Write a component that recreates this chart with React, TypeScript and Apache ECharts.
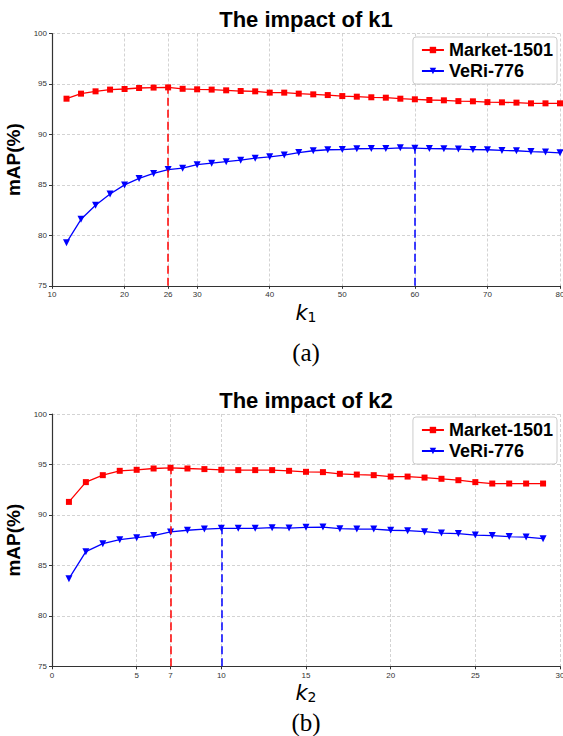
import React, { useEffect, useRef } from "react";
import * as echarts from "echarts";

const k1 = [12, 14, 16, 18, 20, 22, 24, 26, 28, 30, 32, 34, 36, 38, 40, 42, 44, 46, 48, 50, 52, 54, 56, 58, 60, 62, 64, 66, 68, 70, 72, 74, 76, 78, 80];
const market1 = [93.54, 94.04, 94.27, 94.44, 94.5, 94.6, 94.64, 94.66, 94.52, 94.47, 94.44, 94.37, 94.3, 94.27, 94.14, 94.14, 94.04, 93.97, 93.9, 93.8, 93.74, 93.68, 93.64, 93.54, 93.48, 93.41, 93.38, 93.3, 93.28, 93.2, 93.18, 93.15, 93.08, 93.08, 93.08];
const veri1 = [79.27, 81.59, 82.98, 84.1, 85.0, 85.64, 86.14, 86.52, 86.66, 87.0, 87.15, 87.3, 87.45, 87.65, 87.78, 87.95, 88.2, 88.38, 88.48, 88.5, 88.58, 88.6, 88.6, 88.67, 88.64, 88.6, 88.58, 88.55, 88.5, 88.48, 88.41, 88.38, 88.3, 88.25, 88.18];

const k2 = [1, 2, 3, 4, 5, 6, 7, 8, 9, 10, 11, 12, 13, 14, 15, 16, 17, 18, 19, 20, 21, 22, 23, 24, 25, 26, 27, 28, 29];
const market2 = [91.29, 93.25, 93.94, 94.37, 94.47, 94.6, 94.67, 94.6, 94.54, 94.47, 94.44, 94.44, 94.44, 94.37, 94.27, 94.24, 94.07, 94.0, 93.94, 93.8, 93.8, 93.7, 93.58, 93.44, 93.25, 93.11, 93.11, 93.11, 93.11];
const veri2 = [83.68, 86.36, 87.15, 87.55, 87.75, 87.95, 88.31, 88.48, 88.6, 88.67, 88.67, 88.67, 88.74, 88.7, 88.77, 88.8, 88.64, 88.6, 88.6, 88.48, 88.44, 88.34, 88.2, 88.15, 88.0, 87.95, 87.85, 87.8, 87.65];

const k1Ticks = [10, 20, 26, 30, 40, 50, 60, 70, 80];
const k2Ticks = [0, 5, 7, 10, 15, 20, 25, 30];
const yTicks = [75, 80, 85, 90, 95, 100];

const best1Market = 26;
const best1Veri = 60;
const best2Market = 7;
const best2Veri = 10;

const SANS = "'Liberation Sans', Arial, sans-serif";
const RED = "#ff0000";
const BLUE = "#0000ff";
const TRI_DOWN = "path://M0,0L10,0L5,9Z";

function pairs(xs: number[], ys: number[]) {
  return xs.map((x, i) => [x, ys[i]]);
}
function valueAt(xs: number[], ys: number[], x: number) {
  return ys[xs.indexOf(x)];
}

export default function App() {
  const ref = useRef<HTMLDivElement>(null);
  useEffect(() => {
    if (!ref.current) return;
    const chart = echarts.init(ref.current, undefined, { renderer: "svg" });

    const gridTops = [33.5, 414];
    const gridH = 252.3;

    const makeX = (gi: number, min: number, max: number, interval: number, ticks: number[], sub: string) => ({
      type: "value",
      gridIndex: gi,
      min,
      max,
      interval,
      name: "{i|k}{s|" + sub + "}",
      nameLocation: "middle",
      nameGap: 16,
      nameTextStyle: {
        rich: {
          i: { fontStyle: "italic", fontSize: 21, fontFamily: "'DejaVu Sans', sans-serif", color: "#000" },
          s: { fontSize: 14, fontFamily: "'DejaVu Sans', sans-serif", color: "#000", padding: [8, 0, 0, 0] },
        },
      },
      axisLine: { show: true, lineStyle: { color: "#333", width: 1.2 } },
      axisTick: { show: true, length: 3, customValues: ticks, lineStyle: { color: "#333" } },
      axisLabel: { customValues: ticks, fontSize: 8, color: "#333", fontFamily: SANS, margin: 5, showMaxLabel: true },
      splitLine: { show: true, lineStyle: { color: "#c8c8c8", type: [3, 2], width: 0.8 } },
    });

    const makeY = (gi: number) => ({
      type: "value",
      gridIndex: gi,
      min: 75,
      max: 100,
      interval: 5,
      name: "mAP(%)",
      nameLocation: "middle",
      nameRotate: 90,
      nameGap: 22,
      nameTextStyle: { fontSize: 19, fontWeight: "bold", fontFamily: SANS, color: "#000" },
      axisLine: { show: true, lineStyle: { color: "#333", width: 1.2 } },
      axisTick: { show: true, length: 3, customValues: yTicks, lineStyle: { color: "#333" } },
      axisLabel: { fontSize: 8, color: "#333", fontFamily: SANS, margin: 5 },
      splitLine: { show: true, lineStyle: { color: "#c8c8c8", type: [3, 2], width: 0.8 } },
    });

    const vline = (x: number, top: number, color: string) => ({
      silent: true,
      symbol: "none",
      label: { show: false },
      lineStyle: { type: [8, 4], width: 1.5, color },
      data: [[{ coord: [x, 75] }, { coord: [x, top] }]],
    });

    const lineSeries = (name: string, xi: number, data: number[][], color: string, symbol: string, size: number, ml: any) => ({
      type: "line",
      name,
      xAxisIndex: xi,
      yAxisIndex: xi,
      data,
      color,
      symbol,
      symbolSize: size,
      lineStyle: { color, width: 1.3 },
      itemStyle: { color },
      markLine: ml,
      z: 3,
    });

    const legendCfg = (top: number) => ({
      orient: "vertical",
      right: 6,
      top,
      itemWidth: 22,
      itemHeight: 8,
      itemGap: 3,
      padding: [4, 4, 4, 8],
      borderColor: "#cccccc",
      borderWidth: 1,
      borderRadius: 3,
      backgroundColor: "#ffffff",
      textStyle: { fontSize: 18, fontWeight: "bold", fontFamily: SANS, color: "#000" },
      data: ["Market-1501", "VeRi-776"],
      selectedMode: false,
    });

    const cx = 306;
    chart.setOption({
      animation: false,
      backgroundColor: "#ffffff",
      grid: [
        { left: 52, right: 3, top: gridTops[0], height: gridH, containLabel: false, outerBoundsMode: "none" },
        { left: 52, right: 3, top: gridTops[1], height: gridH, containLabel: false, outerBoundsMode: "none" },
      ],
      xAxis: [makeX(0, 10, 80, 10, k1Ticks, "1"), makeX(1, 0, 30, 5, k2Ticks, "2")],
      yAxis: [makeY(0), makeY(1)],
      legend: [legendCfg(37), legendCfg(417)],
      series: [
        lineSeries("Market-1501", 0, pairs(k1, market1), RED, "rect", 6, vline(best1Market, valueAt(k1, market1, best1Market), RED)),
        lineSeries("VeRi-776", 0, pairs(k1, veri1), BLUE, TRI_DOWN, 7, vline(best1Veri, valueAt(k1, veri1, best1Veri), BLUE)),
        lineSeries("Market-1501", 1, pairs(k2, market2), RED, "rect", 6, vline(best2Market, valueAt(k2, market2, best2Market), RED)),
        lineSeries("VeRi-776", 1, pairs(k2, veri2), BLUE, TRI_DOWN, 7, vline(best2Veri, valueAt(k2, veri2, best2Veri), BLUE)),
      ],
      graphic: [
        { type: "text", x: cx, y: 19.5, style: { text: "The impact of k1", font: "bold 22px " + SANS, fill: "#000", textAlign: "center", textVerticalAlign: "middle" } },
        { type: "text", x: cx, y: 400, style: { text: "The impact of k2", font: "bold 22px " + SANS, fill: "#000", textAlign: "center", textVerticalAlign: "middle" } },
        { type: "text", x: cx, y: 352, style: { text: "(a)", font: "25px 'Liberation Serif', serif", fill: "#000", textAlign: "center", textVerticalAlign: "middle" } },
        { type: "text", x: cx, y: 722, style: { text: "(b)", font: "25px 'Liberation Serif', serif", fill: "#000", textAlign: "center", textVerticalAlign: "middle" } },
      ],
    });
    return () => chart.dispose();
  }, []);

  return (
    <div
      ref={ref}
      style={{ position: "fixed", left: 0, top: 0, width: 563, height: 736, background: "#fff" }}
    />
  );
}
